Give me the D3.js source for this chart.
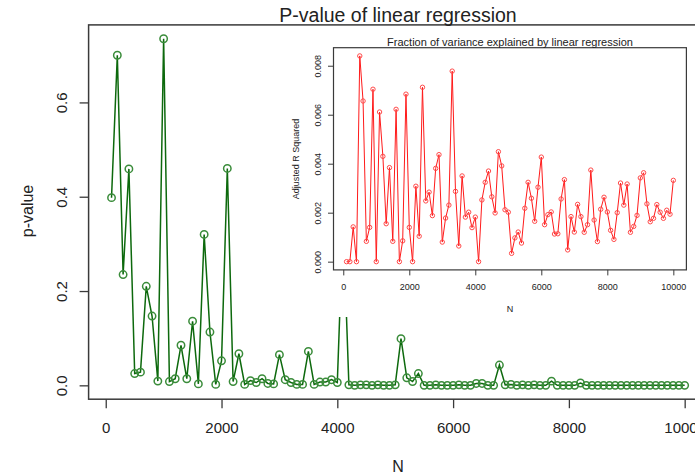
<!DOCTYPE html>
<html>
<head>
<meta charset="utf-8">
<script src="https://cdn.jsdelivr.net/npm/d3@7"></script>
<style>
  body { margin: 0; background: #fff; }
  svg { display: block; font-family: "Liberation Sans", Arial, Helvetica, sans-serif; }
</style>
</head>
<body>
<div id="chart"></div>
<script>
// sample sizes (same for both panels)
const nValues = [
  100, 200, 300, 400, 500, 600, 700, 800, 900, 1000,
  1100, 1200, 1300, 1400, 1500, 1600, 1700, 1800, 1900, 2000,
  2100, 2200, 2300, 2400, 2500, 2600, 2700, 2800, 2900, 3000,
  3100, 3200, 3300, 3400, 3500, 3600, 3700, 3800, 3900, 4000,
  4100, 4200, 4300, 4400, 4500, 4600, 4700, 4800, 4900, 5000,
  5100, 5200, 5300, 5400, 5500, 5600, 5700, 5800, 5900, 6000,
  6100, 6200, 6300, 6400, 6500, 6600, 6700, 6800, 6900, 7000,
  7100, 7200, 7300, 7400, 7500, 7600, 7700, 7800, 7900, 8000,
  8100, 8200, 8300, 8400, 8500, 8600, 8700, 8800, 8900, 9000,
  9100, 9200, 9300, 9400, 9500, 9600, 9700, 9800, 9900, 10000
];

// p-value of the regression, main panel
const pValues = [
  0.398, 0.700, 0.235, 0.459, 0.025, 0.028, 0.210, 0.147, 0.009, 0.735,
  0.008, 0.014, 0.085, 0.014, 0.136, 0.003, 0.320, 0.113, 0.002, 0.052,
  0.460, 0.008, 0.067, 0.002, 0.010, 0.006, 0.014, 0.004, 0.003, 0.065,
  0.012, 0.006, 0.002, 0.002, 0.072, 0.002, 0.007, 0.007, 0.012, 0.006,
  0.350, 0.001, 0.000, 0.001, 0.001, 0.000, 0.001, 0.000, 0.000, 0.001,
  0.099, 0.016, 0.008, 0.025, 0.000, 0.000, 0.001, 0.000, 0.000, 0.000,
  0.001, 0.000, 0.000, 0.004, 0.004, 0.000, 0.000, 0.043, 0.001, 0.002,
  0.000, 0.001, 0.000, 0.001, 0.000, 0.000, 0.009, 0.000, 0.000, 0.000,
  0.000, 0.005, 0.000, 0.000, 0.000, 0.000, 0.000, 0.000, 0.000, 0.000,
  0.000, 0.000, 0.000, 0.000, 0.000, 0.000, 0.000, 0.000, 0.000, 0.000
];

// adjusted R squared, inset panel
const r2Values = [
  0, 0, 0.00142, 0, 0.0084, 0.00656, 0.00083, 0.0014, 0.00704, 0,
  0.00611, 0.0043, 0.00155, 0.00384, 0.00083, 0.00622, 0, 0.00085, 0.00684, 0.0014,
  0, 0.00308, 0.00104, 0.00712, 0.00248, 0.00284, 0.00188, 0.00381, 0.00437, 0.0008,
  0.00178, 0.00231, 0.00778, 0.00287, 0.00064, 0.0035, 0.00182, 0.00202, 0.00139, 0.00182,
  0, 0.00252, 0.00324, 0.0037, 0.00265, 0.00199, 0.00449, 0.00391, 0.00212, 0.00202,
  0.00034, 0.00097, 0.00121, 0.00076, 0.00218, 0.00324, 0.00259, 0.00165, 0.00304, 0.00427,
  0.00151, 0.00192, 0.00203, 0.00113, 0.00114, 0.00256, 0.00335, 0.00048, 0.00184, 0.00121,
  0.00234, 0.00184, 0.0012, 0.00151, 0.00374, 0.0017, 0.00082, 0.00214, 0.00263, 0.00203,
  0.00128, 0.00091, 0.002, 0.00321, 0.00231, 0.00317, 0.0012, 0.00144, 0.00189, 0.00342,
  0.00363, 0.00236, 0.00163, 0.00177, 0.00233, 0.00202, 0.00177, 0.0021, 0.00194, 0.00332
];

const xTicks = [0, 2000, 4000, 6000, 8000, 10000];
const pTicks = [0, 0.2, 0.4, 0.6];
const r2Ticks = [0, 0.002, 0.004, 0.006, 0.008];

const mainTitle = "P-value of linear regression";
const insetTitle = "Fraction of variance explained by linear regression";

let width = 695;
let height = 474;

// R style: pad the data range by 4% on each side
function padded(lo, hi) {
  let r = hi - lo;
  return [lo - r * 0.04, hi + r * 0.04];
}

let svg = d3.select("#chart")
  .append("svg")
  .attr("width", width)
  .attr("height", height);

let mainData = nValues.map((n, i) => ({ n: n, v: pValues[i] }));
let insetData = nValues.map((n, i) => ({ n: n, v: r2Values[i] }));

//MAIN PANEL
let mx = d3.scaleLinear().domain(padded(100, 10000)).range([88.6, 707.6]);
let my = d3.scaleLinear().domain(padded(0, d3.max(pValues))).range([399.2, 24.9]);

let main = svg.append("g");

main.append("path")
  .datum(mainData)
  .attr("fill", "none")
  .attr("stroke", "#0d690d")
  .attr("stroke-width", 1.5)
  .attr("d", d3.line().x((d) => mx(d.n)).y((d) => my(d.v)));

main.append("g")
  .selectAll("circle")
  .data(mainData)
  .join("circle")
  .attr("cx", (d) => mx(d.n))
  .attr("cy", (d) => my(d.v))
  .attr("r", 3.7)
  .attr("fill", "none")
  .attr("stroke", "#3a8c3a")
  .attr("stroke-width", 1.5);

main.append("rect")
  .attr("x", mx.range()[0])
  .attr("y", my.range()[1])
  .attr("width", mx.range()[1] - mx.range()[0])
  .attr("height", my.range()[0] - my.range()[1])
  .attr("fill", "none")
  .attr("stroke", "#3a3a3a")
  .attr("stroke-width", 1.5);

let mxAxis = main.append("g")
  .attr("transform", `translate(0,${my.range()[0]})`)
  .call(d3.axisBottom(mx).tickValues(xTicks).tickSize(9).tickFormat(d3.format("d")));
mxAxis.select(".domain").remove();
mxAxis.selectAll("line").attr("stroke", "#3a3a3a").attr("stroke-width", 1.3);
mxAxis.selectAll("text")
  .attr("y", 29)
  .attr("dy", "0.35em")
  .attr("font-size", 15)
  .attr("fill", "#222");

let myAxis = main.append("g")
  .attr("transform", `translate(${mx.range()[0]},0)`)
  .call(d3.axisLeft(my).tickValues(pTicks).tickSize(9).tickFormat(d3.format(".1f")));
myAxis.select(".domain").remove();
myAxis.selectAll("line").attr("stroke", "#3a3a3a").attr("stroke-width", 1.3);
myAxis.selectAll("text")
  .attr("x", 0)
  .attr("y", 0)
  .attr("dy", "0.35em")
  .attr("text-anchor", "middle")
  .attr("transform", "translate(-27,0) rotate(-90)")
  .attr("font-size", 15)
  .attr("fill", "#222");

svg.append("text")
  .attr("x", 398)
  .attr("y", 15)
  .attr("dy", "0.35em")
  .attr("text-anchor", "middle")
  .attr("font-size", 19.5)
  .attr("fill", "#222")
  .text(mainTitle);

svg.append("text")
  .attr("x", 398)
  .attr("y", 466)
  .attr("dy", "0.35em")
  .attr("text-anchor", "middle")
  .attr("font-size", 16)
  .attr("fill", "#222")
  .text("N");

svg.append("text")
  .attr("transform", "translate(27,211) rotate(-90)")
  .attr("dy", "0.35em")
  .attr("text-anchor", "middle")
  .attr("font-size", 16)
  .attr("fill", "#222")
  .text("p-value");

//INSET PANEL (white background hides the main plot below it)
let ix = d3.scaleLinear().domain(padded(100, 10000)).range([333.5, 686.4]);
let iy = d3.scaleLinear().domain(padded(0, d3.max(r2Values))).range([269.9, 47.7]);

let inset = svg.append("g");

inset.append("rect")
  .attr("x", 262)
  .attr("y", 31)
  .attr("width", width - 262)
  .attr("height", 286)
  .attr("fill", "#fff");

inset.append("path")
  .datum(insetData)
  .attr("fill", "none")
  .attr("stroke", "#ff1a1a")
  .attr("stroke-width", 1)
  .attr("d", d3.line().x((d) => ix(d.n)).y((d) => iy(d.v)));

inset.append("g")
  .selectAll("circle")
  .data(insetData)
  .join("circle")
  .attr("cx", (d) => ix(d.n))
  .attr("cy", (d) => iy(d.v))
  .attr("r", 2.2)
  .attr("fill", "none")
  .attr("stroke", "#ff4a4a")
  .attr("stroke-width", 1);

inset.append("rect")
  .attr("x", ix.range()[0])
  .attr("y", iy.range()[1])
  .attr("width", ix.range()[1] - ix.range()[0])
  .attr("height", iy.range()[0] - iy.range()[1])
  .attr("fill", "none")
  .attr("stroke", "#3a3a3a")
  .attr("stroke-width", 1.2);

let ixAxis = inset.append("g")
  .attr("transform", `translate(0,${iy.range()[0]})`)
  .call(d3.axisBottom(ix).tickValues(xTicks).tickSize(5.5).tickFormat(d3.format("d")));
ixAxis.select(".domain").remove();
ixAxis.selectAll("line").attr("stroke", "#3a3a3a");
ixAxis.selectAll("text")
  .attr("y", 17)
  .attr("dy", "0.35em")
  .attr("font-size", 9)
  .attr("fill", "#222");

let iyAxis = inset.append("g")
  .attr("transform", `translate(${ix.range()[0]},0)`)
  .call(d3.axisLeft(iy).tickValues(r2Ticks).tickSize(5.5).tickFormat(d3.format(".3f")));
iyAxis.select(".domain").remove();
iyAxis.selectAll("line").attr("stroke", "#3a3a3a");
iyAxis.selectAll("text")
  .attr("x", 0)
  .attr("y", 0)
  .attr("dy", "0.35em")
  .attr("text-anchor", "middle")
  .attr("transform", "translate(-15.5,0) rotate(-90)")
  .attr("font-size", 9)
  .attr("fill", "#222");

inset.append("text")
  .attr("x", 510)
  .attr("y", 42.5)
  .attr("dy", "0.35em")
  .attr("text-anchor", "middle")
  .attr("font-size", 11)
  .attr("fill", "#222")
  .text(insetTitle);

inset.append("text")
  .attr("x", 510)
  .attr("y", 309)
  .attr("dy", "0.35em")
  .attr("text-anchor", "middle")
  .attr("font-size", 9)
  .attr("fill", "#222")
  .text("N");

inset.append("text")
  .attr("transform", "translate(296,159) rotate(-90)")
  .attr("dy", "0.35em")
  .attr("text-anchor", "middle")
  .attr("font-size", 9)
  .attr("fill", "#222")
  .text("Adjusted R Squared");
</script>
</body>
</html>
